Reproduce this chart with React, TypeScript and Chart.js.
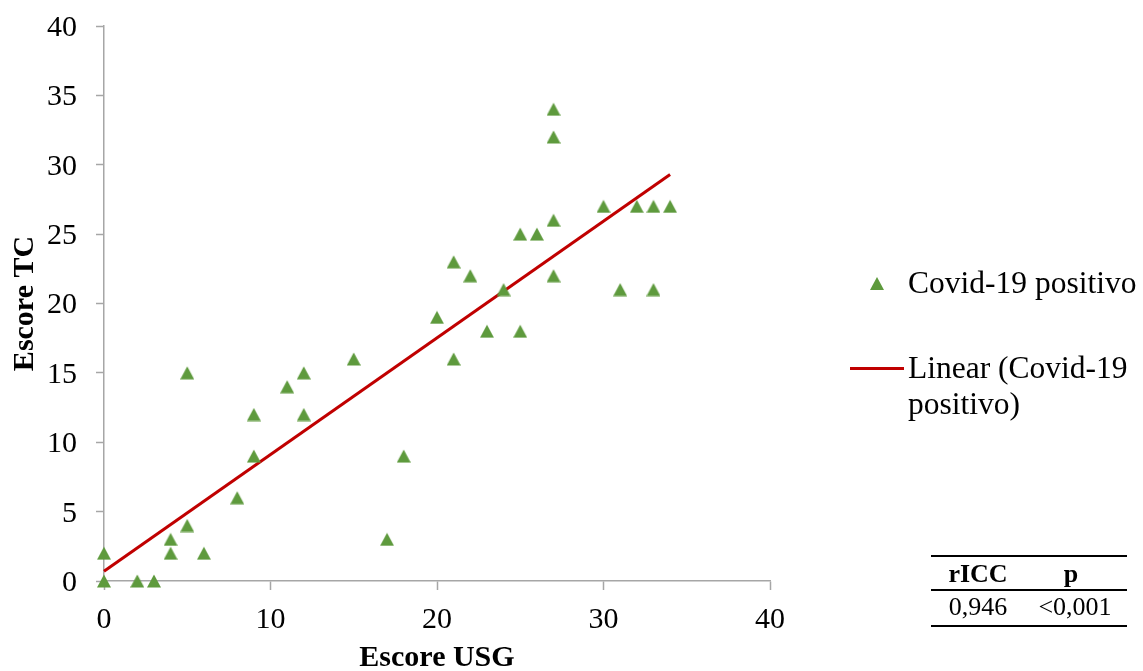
import React, { useEffect, useRef } from "react";
import { Chart, registerables } from "chart.js";

Chart.register(...registerables);

// Escore USG (x) and Escore TC (y) for each patient
const usgScores = [0, 0, 2, 3, 4, 4, 5, 5, 6, 8, 9, 9, 11, 12, 12, 15, 17, 18, 20, 21, 21, 22, 23, 24, 25, 25, 26, 27, 27, 27, 27, 30, 31, 32, 33, 33, 34];
const tcScores = [2, 0, 0, 0, 3, 2, 15, 4, 2, 6, 12, 9, 14, 15, 12, 16, 3, 9, 19, 23, 16, 22, 18, 21, 25, 18, 25, 34, 32, 26, 22, 27, 21, 27, 27, 21, 27];

// Linear trend line end points
const trendX = [0, 34];
const trendY = [0.7, 29.3];

const xTicks = [0, 10, 20, 30, 40];
const yTicks = [0, 5, 10, 15, 20, 25, 30, 35, 40];

const seriesLabel = "Covid-19 positivo";
const trendLabelLines = ["Linear (Covid-19", "positivo)"];
const tableHeaders = ["rICC", "p"];
const tableValues = ["0,946", "<0,001"];

const GREEN = "#5e9a3d";
const RED = "#c00000";
const AXIS = "#a6a6a6";
const FONT = "'Liberation Serif', 'Times New Roman', serif";

export default function App() {
  const canvasRef = useRef<HTMLCanvasElement | null>(null);

  useEffect(() => {
    const canvas = canvasRef.current;
    if (!canvas) return;

    const tri = document.createElement("canvas");
    tri.width = 14;
    tri.height = 14;
    const tctx = tri.getContext("2d")!;
    tctx.fillStyle = GREEN;
    tctx.beginPath();
    tctx.moveTo(0, 13.5);
    tctx.lineTo(7, 0.5);
    tctx.lineTo(14, 13.5);
    tctx.closePath();
    tctx.fill();

    const points = usgScores.map((x, i) => ({ x, y: tcScores[i] }));
    const trend = trendX.map((x, i) => ({ x, y: trendY[i] }));

    const chart = new Chart(canvas, {
      type: "scatter",
      data: {
        datasets: [
          {
            label: seriesLabel,
            data: points,
            pointStyle: tri as any,
            pointRadius: 7,
            backgroundColor: GREEN,
            borderColor: GREEN,
            clip: false as any,
            order: 1,
          },
          {
            label: trendLabelLines.join(" "),
            type: "line" as any,
            data: trend,
            showLine: true,
            borderColor: RED,
            borderWidth: 3,
            pointRadius: 0,
            fill: false,
            clip: false,
            order: 2,
          } as any,
        ],
      },
      options: {
        animation: false,
        responsive: false,
        devicePixelRatio: 1,
        layout: { padding: { top: 26, right: 373, left: 0, bottom: 0 } },
        plugins: {
          legend: { display: false },
          tooltip: { enabled: false },
        },
        scales: {
          x: {
            type: "linear",
            min: 0,
            max: 40,
            afterFit: (axis: any) => {
              axis.height = 90;
              axis.paddingLeft = 0;
              axis.paddingRight = 0;
            },
            afterBuildTicks: (axis: any) => {
              axis.ticks = xTicks.map((v) => ({ value: v }));
            },
            grid: {
              drawOnChartArea: false,
              drawTicks: true,
              tickLength: 9,
              tickColor: AXIS,
              tickWidth: 1.5,
              color: AXIS,
            },
            border: { display: true, color: AXIS, width: 1.5 },
            ticks: {
              color: "#000",
              padding: 12,
              font: { family: FONT, size: 30 },
            },
            title: {
              display: true,
              text: "Escore USG",
              color: "#000",
              font: { family: FONT, size: 30, weight: "bold", lineHeight: 0.86 },
              padding: { top: 0, bottom: 0 },
            },
          },
          y: {
            type: "linear",
            min: 0,
            max: 40,
            afterFit: (axis: any) => {
              axis.width = 104;
              axis.paddingTop = 0;
              axis.paddingBottom = 0;
            },
            afterBuildTicks: (axis: any) => {
              axis.ticks = yTicks.map((v) => ({ value: v }));
            },
            grid: {
              drawOnChartArea: false,
              drawTicks: true,
              tickLength: 8,
              tickColor: AXIS,
              tickWidth: 1.5,
              color: AXIS,
            },
            border: { display: true, color: AXIS, width: 1.5 },
            ticks: {
              color: "#000",
              padding: 19,
              labelOffset: 2,
              font: { family: FONT, size: 30 },
            },
            title: {
              display: true,
              text: "Escore TC",
              color: "#000",
              font: { family: FONT, size: 30, weight: "bold", lineHeight: 0.86 },
              padding: { top: 12, bottom: 0 },
            },
          },
        },
      },
    });

    return () => chart.destroy();
  }, []);

  const textStyle: React.CSSProperties = {
    position: "absolute",
    fontFamily: FONT,
    fontSize: 31.5,
    lineHeight: "36px",
    color: "#000",
    whiteSpace: "nowrap",
  };

  const cell = (left: number, top: number, text: string, bold: boolean): React.ReactElement => (
    <div
      key={text}
      style={{
        position: "absolute",
        left: left - 60,
        width: 120,
        top: top - 15,
        height: 30,
        lineHeight: "30px",
        textAlign: "center",
        fontFamily: FONT,
        fontSize: 26,
        fontWeight: bold ? "bold" : "normal",
        color: "#000",
      }}
    >
      {text}
    </div>
  );

  return (
    <div style={{ position: "fixed", left: 0, top: 0, width: 1143, height: 671, background: "#fff", overflow: "hidden" }}>
      <canvas ref={canvasRef} width={1143} height={671} style={{ position: "absolute", left: 0, top: 0, width: 1143, height: 671 }} />
      {/* Legend */}
      <div
        style={{
          position: "absolute",
          left: 870,
          top: 277,
          width: 0,
          height: 0,
          borderLeft: "7px solid transparent",
          borderRight: "7px solid transparent",
          borderBottom: `13px solid ${GREEN}`,
        }}
      />
      <div style={{ ...textStyle, left: 908, top: 265 }}>{seriesLabel}</div>
      <div style={{ position: "absolute", left: 850, top: 367, width: 54, height: 3, background: RED }} />
      <div style={{ ...textStyle, left: 908, top: 350 }}>
        {trendLabelLines[0]}
        <br />
        {trendLabelLines[1]}
      </div>
      {/* Stats table */}
      <div style={{ position: "absolute", left: 931, top: 555, width: 196, height: 2, background: "#000" }} />
      <div style={{ position: "absolute", left: 931, top: 589, width: 196, height: 2, background: "#000" }} />
      <div style={{ position: "absolute", left: 931, top: 625, width: 196, height: 2, background: "#000" }} />
      {cell(978, 574, tableHeaders[0], true)}
      {cell(1071, 574, tableHeaders[1], true)}
      {cell(978, 607, tableValues[0], false)}
      {cell(1075, 607, tableValues[1], false)}
    </div>
  );
}
